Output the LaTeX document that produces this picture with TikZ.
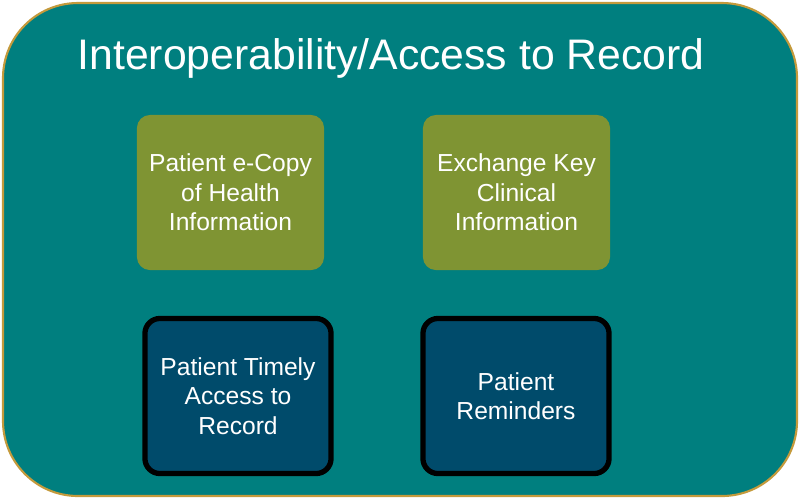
\documentclass[tikz,border=0pt]{standalone}
\usepackage{fontspec}
\setmainfont{Liberation Sans}
\tikzset{
  outerbox/.style={draw=frame, fill=teal0, line width=0.6pt, rounded corners=0.75cm},
  greenbox/.style={fill=olive0, rounded corners=0.13cm, minimum width=1.87cm, minimum height=1.55cm,
    text=white, align=center, font=\fontsize{7}{8.4}\selectfont},
  bluebox/.style={fill=navy0, draw=black, line width=1.5pt, rounded corners=0.15cm, minimum width=1.86cm,
    minimum height=1.55cm, text=white, align=center, font=\fontsize{7}{8.4}\selectfont}
}
\definecolor{teal0}{HTML}{007F7F}
\definecolor{olive0}{HTML}{7F9433}
\definecolor{navy0}{HTML}{004B6B}
\definecolor{frame}{HTML}{C49A3C}
\begin{document}
\begin{tikzpicture}[x=0.01cm,y=-0.01cm]
\useasboundingbox (0,0) rectangle (800,499);
\draw[outerbox] (3,3) rectangle (797,496);
\node[text=white, font=\fontsize{12.15}{14}\selectfont] (title) at (391,58) {Interoperability/Access to Record};
\node[greenbox] (ecopy) at (230.5,192.5) {Patient e-Copy\\of Health\\Information};
\node[greenbox] (exchange) at (516.5,192.5) {Exchange Key\\Clinical\\Information};
\node[bluebox] (timely) at (238,396) {Patient Timely\\Access to\\Record};
\node[bluebox] (remind) at (516,396) {Patient\\Reminders};
\end{tikzpicture}
\end{document}
